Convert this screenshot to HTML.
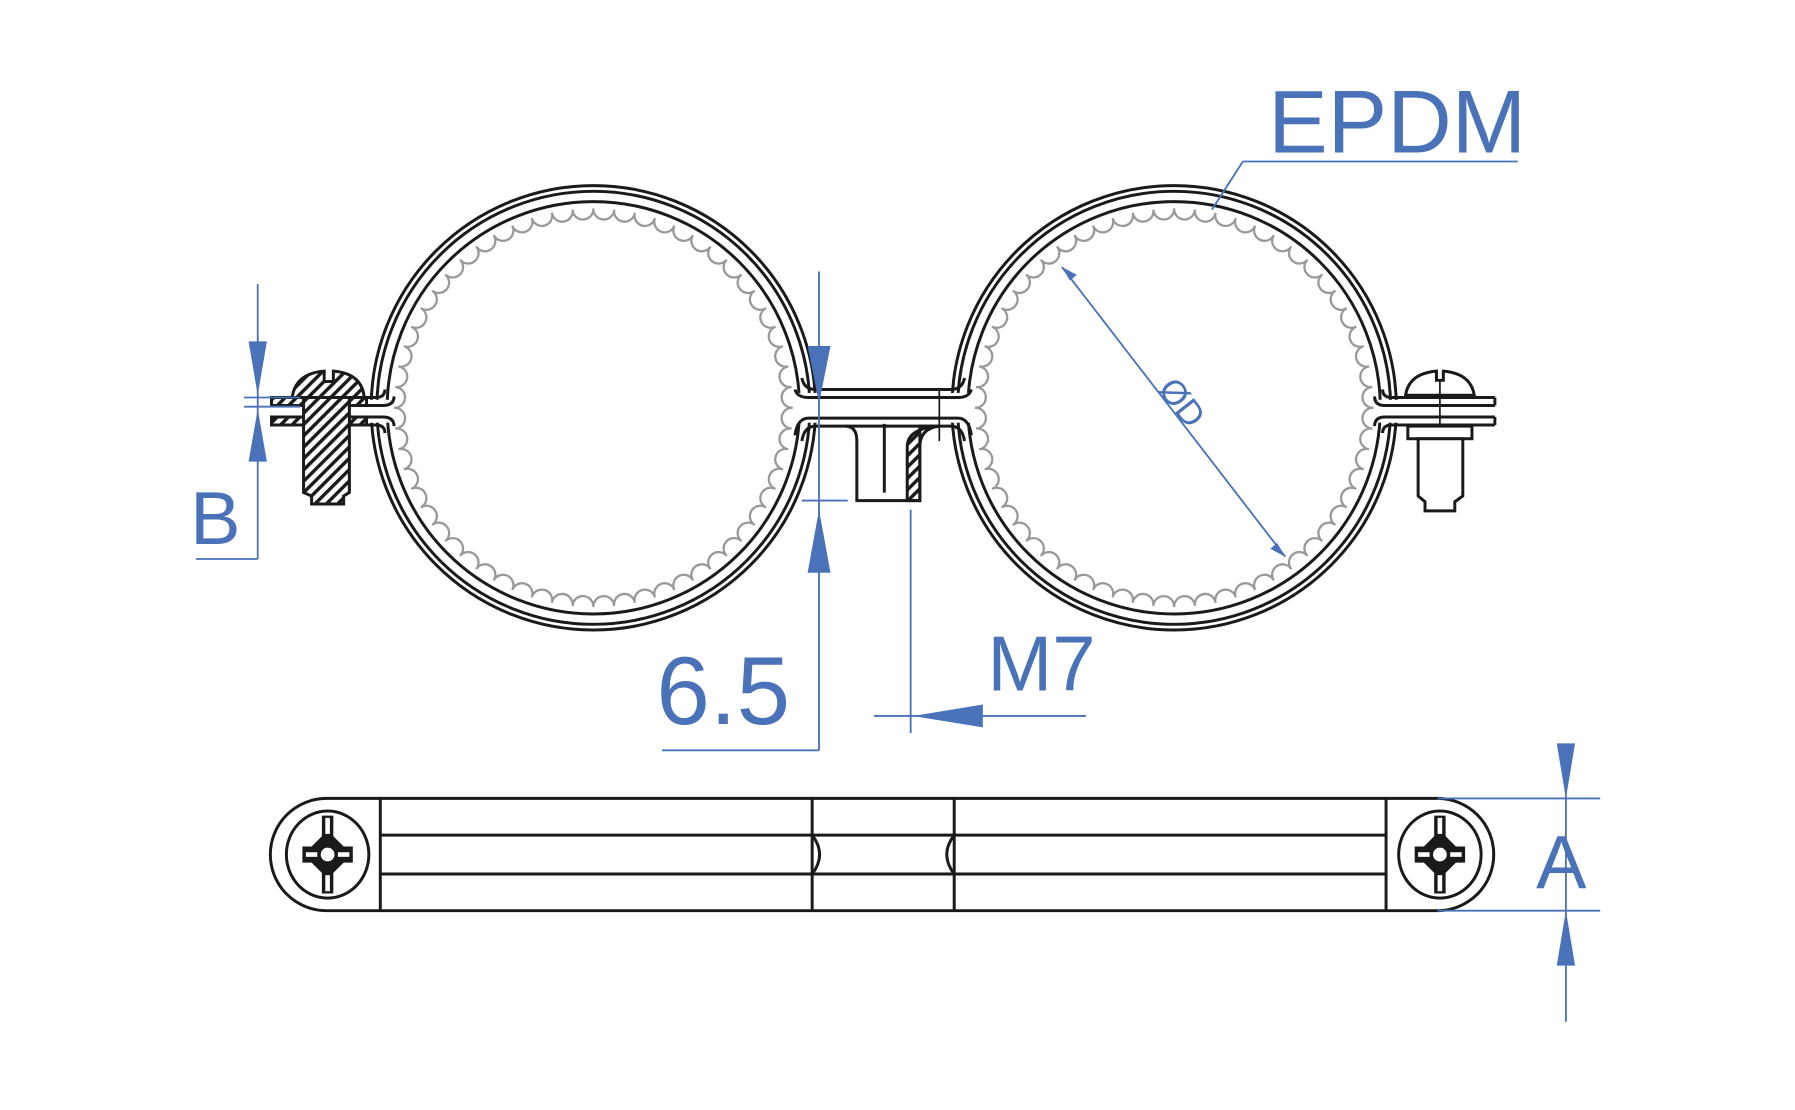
<!DOCTYPE html>
<html><head><meta charset="utf-8"><style>
html,body{margin:0;padding:0;background:#fff;}
svg{display:block;}
text{font-family:"Liberation Sans",sans-serif;fill:#4a72b8;}
</style></head><body>
<svg id="s" width="1795" height="1110" viewBox="0 0 1567 969" xmlns="http://www.w3.org/2000/svg">
<defs>
<pattern id="h" width="7" height="7" patternUnits="userSpaceOnUse" patternTransform="rotate(45)">
<rect width="7" height="7" fill="#fff"/><rect width="3" height="7" fill="#1a1a1a"/></pattern>
</defs>
<g fill="none" stroke="#1a1a1a" stroke-width="2.6">
<circle cx="518" cy="356" r="194"/><circle cx="518" cy="356" r="189"/><circle cx="518" cy="356" r="180"/>
<circle cx="1025" cy="356" r="194"/><circle cx="1025" cy="356" r="189"/><circle cx="1025" cy="356" r="180"/>
</g>
<g fill="#fff">
<rect x="318" y="349" width="40" height="20"/>
<rect x="680" y="343" width="40" height="26"/>
<rect x="822" y="343" width="40" height="26"/>
<rect x="1185" y="349" width="40" height="20"/>
</g>
<g id="sc" fill="none" stroke="#999" stroke-width="2"></g>
<g fill="none" stroke="#1a1a1a" stroke-width="2.6">
<path d="M237 347 H328 Q336 347 336 340"/><path d="M237 354 H334 Q344 354 344 346"/>
<path d="M237 364 H334 Q344 364 344 372"/><path d="M237 371 H328 Q336 371 336 378"/>
<path d="M700 330 Q702 340 712 340 H830 Q840 340 842 330"/>
<path d="M694 340 Q696 347 706 347 H836 Q846 347 848 340"/>
<path d="M694 380 Q696 365 706 365 H836 Q846 365 848 380"/>
<path d="M700 385 Q702 372 712 372 H830 Q840 372 842 385"/>
<path d="M1305 347 H1215 Q1207 347 1207 340"/><path d="M1305 354 H1209 Q1200 354 1200 346"/>
<path d="M1305 364 H1209 Q1200 364 1200 372"/><path d="M1305 371 H1215 Q1207 371 1207 378"/>
<line x1="1305" y1="347" x2="1305" y2="354"/><line x1="1305" y1="364" x2="1305" y2="371"/>
</g>
<g fill="url(#h)" stroke="#1a1a1a" stroke-width="2.6">
<path d="M792 437 V390 Q792 374 820 372 H803 Q803 374 803 390 V437 Z" />
</g>
<g fill="none" stroke="#1a1a1a" stroke-width="2.6">
<path d="M738 372 Q748 372 748 385 V437 H803 V390 Q803 374 820 372"/>
<line x1="772" y1="370" x2="772" y2="430"/>
<line x1="820" y1="340" x2="820" y2="385" stroke-width="1.5"/>
<path d="M285 697 H1255 A49 49 0 0 1 1255 795 H285 A49 49 0 0 1 285 697 Z"/>
<line x1="332" y1="697" x2="332" y2="795"/><line x1="709" y1="697" x2="709" y2="795"/>
<line x1="833" y1="697" x2="833" y2="795"/><line x1="1210" y1="697" x2="1210" y2="795"/>
<line x1="332" y1="729" x2="1210" y2="729"/><line x1="332" y1="763" x2="1210" y2="763"/>
<path d="M709 729 Q722 746 709 763"/><path d="M833 729 Q820 746 833 763"/>
<ellipse cx="286" cy="746" rx="36" ry="38"/><ellipse cx="1257" cy="746" rx="36" ry="38"/>
</g>
<g fill="#1a1a1a">
<path d="M281 712 h10 v18 l9 9 h8 v14 h-8 l-9 9 v18 h-10 v-18 l-9 -9 h-8 v-14 h8 l9 -9 z"/>
<path d="M1252 712 h10 v18 l9 9 h8 v14 h-8 l-9 9 v18 h-10 v-18 l-9 -9 h-8 v-14 h8 l9 -9 z"/>
</g>
<g fill="#fff"><circle cx="286" cy="746" r="6"/><circle cx="1257" cy="746" r="6"/>
<rect x="284" y="714" width="4" height="14"/><rect x="284" y="764" width="4" height="14"/>
<rect x="1255" y="714" width="4" height="14"/><rect x="1255" y="764" width="4" height="14"/>
<rect x="267" y="744" width="10" height="4"/><rect x="295" y="744" width="10" height="4"/>
<rect x="1238" y="744" width="10" height="4"/><rect x="1266" y="744" width="10" height="4"/></g>
<g stroke="#1a1a1a" stroke-width="2.6" fill="url(#h)">
<path d="M255 347 Q258 326 283 324 V333 H291 V324 Q316 326 318 347 Z"/>
<rect x="237" y="347" width="30" height="7"/><rect x="237" y="364" width="30" height="7"/>
<rect x="300" y="347" width="20" height="7"/><rect x="300" y="364" width="20" height="7"/>
<path d="M265 347 H305 V430 L300 433 V440 H272 V433 L265 430 Z"/>
</g>
<g stroke="#1a1a1a" stroke-width="2.6" fill="#fff">
<path d="M1227 345 Q1230 326 1254 324 V332 H1260 V324 Q1284 326 1287 345 Z"/>
<rect x="1229" y="372" width="56" height="11"/>
<path d="M1238 383 H1277 V433 L1270 438 V446 H1244 V438 L1238 433 Z"/>
</g>
<line x1="1257" y1="332" x2="1257" y2="372" stroke="#1a1a1a" stroke-width="1.5"/>
<g stroke="#4a72b8" stroke-width="1.6" fill="none">
<line x1="225" y1="248" x2="225" y2="488"/><line x1="171" y1="488" x2="225" y2="488"/>
<line x1="213" y1="347" x2="262" y2="347"/><line x1="213" y1="355" x2="262" y2="355"/>
<line x1="715" y1="237" x2="715" y2="655"/><line x1="578" y1="655" x2="715" y2="655"/>
<line x1="700" y1="437" x2="740" y2="437"/>
<line x1="795" y1="445" x2="795" y2="640"/><line x1="763" y1="625" x2="948" y2="625"/>
<line x1="927" y1="233" x2="1122" y2="486"/>
<line x1="1085" y1="141" x2="1325" y2="141"/><line x1="1085" y1="141" x2="1058" y2="183"/>
<line x1="1367" y1="649" x2="1367" y2="892"/>
<line x1="1255" y1="697" x2="1397" y2="697"/><line x1="1255" y1="795" x2="1397" y2="795"/>
</g>
<g fill="#4a72b8">
<path d="M217 298 H233 L225 345 Z"/><path d="M217 403 H233 L225 357 Z"/>
<path d="M705 302 H725 L715 352 Z"/><path d="M705 500 H725 L715 445 Z"/>
<path d="M858 615 V635 L797 625 Z"/>
<path d="M1359 649 H1375 L1367 697 Z"/><path d="M1359 843 H1375 L1367 795 Z"/>
<path d="M927 233 L940 240 L934 245 Z"/><path d="M1122 486 L1109 479 L1115 474 Z"/>
</g>
<text x="1107" y="133" font-size="78">EPDM</text>
<text x="166" y="475" font-size="66">B</text>
<text x="573" y="632" font-size="84">6.5</text>
<text x="862" y="603" font-size="68">M7</text>
<text x="1341" y="775" font-size="66">A</text>
<text x="0" y="0" font-size="30" transform="translate(1010 340) rotate(52)">ØD</text>
</svg>
<script>
var g=document.getElementById('sc'),d='';
[518,1025].forEach(function(cx){var cy=356,n=60,R=174,r=R*Math.PI/n*0.95;
for(var i=0;i<n;i++){var a1=2*Math.PI*i/n,a2=2*Math.PI*(i+1)/n;
var x1=cx+R*Math.cos(a1),y1=cy+R*Math.sin(a1),x2=cx+R*Math.cos(a2),y2=cy+R*Math.sin(a2);
d+='M'+x1.toFixed(1)+' '+y1.toFixed(1)+' A'+r.toFixed(1)+' '+r.toFixed(1)+' 0 0 0 '+x2.toFixed(1)+' '+y2.toFixed(1)+' ';}});
var p=document.createElementNS('http://www.w3.org/2000/svg','path');p.setAttribute('d',d);g.appendChild(p);
</script>
</body></html>
